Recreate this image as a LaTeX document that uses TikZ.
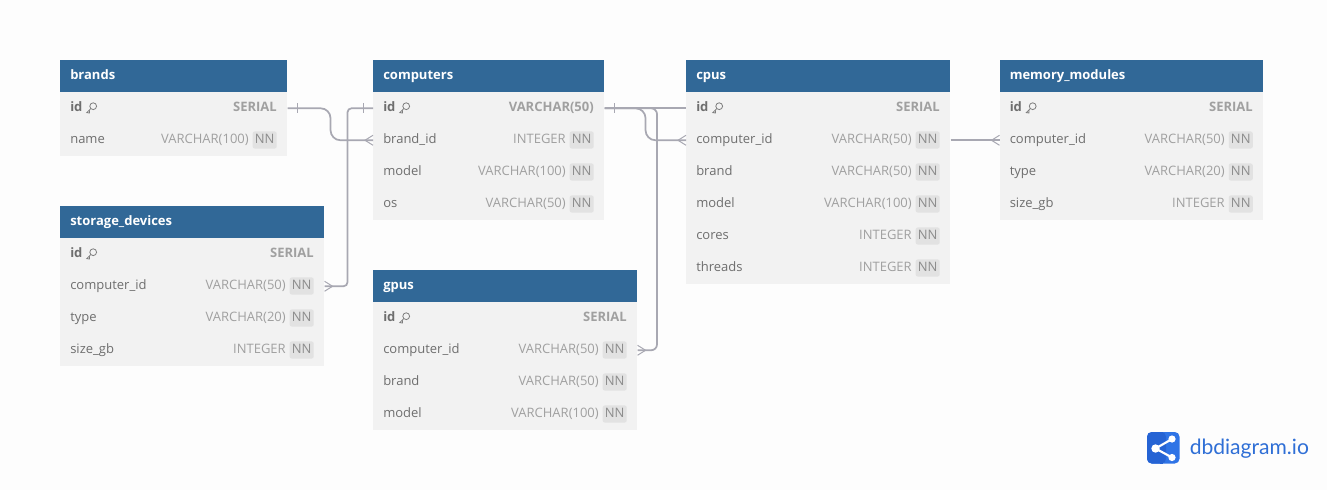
\documentclass[tikz,border=0pt]{standalone}
\usepackage{fontspec}
\setmainfont{Open Sans}
\newfontfamily\logofont{Lato}
\usetikzlibrary{calc}
\definecolor{pagebg}{HTML}{FDFDFD}
\definecolor{headblue}{HTML}{316897}
\definecolor{rowgrey}{HTML}{F2F2F2}
\definecolor{fieldgrey}{HTML}{6E6E6E}
\definecolor{typegrey}{HTML}{A0A0A0}
\definecolor{badgegrey}{HTML}{E2E2E2}
\definecolor{badgetext}{HTML}{8C8C8C}
\definecolor{relgrey}{HTML}{A8A8B2}
\definecolor{logoA}{HTML}{2563D4}
\definecolor{logoB}{HTML}{2F74E6}
\definecolor{logotext}{HTML}{2F6FD6}
\def\pxu{0.75pt}
\tikzset{
  x=0.75pt,y=-0.75pt,
  headbox/.style={fill=headblue,draw=none,inner sep=0pt,minimum height=32*\pxu,anchor=north west},
  rowbox/.style={fill=rowgrey,draw=none,inner sep=0pt,minimum height=32*\pxu,anchor=north west},
  titletext/.style={anchor=west,inner sep=0pt,text=white,font=\fontsize{9.75pt}{11pt}\selectfont\bfseries,text height=7.2pt,text depth=1.8pt},
  fieldtext/.style={inner sep=0pt,anchor=west,text=fieldgrey,font=\fontsize{9.75pt}{11pt}\selectfont,text height=7.2pt,text depth=1.8pt},
  pkfield/.style={fieldtext,font=\fontsize{9.75pt}{11pt}\selectfont\bfseries},
  typetext/.style={inner sep=0pt,anchor=east,text=typegrey,font=\fontsize{9.75pt}{11pt}\selectfont,text height=7.2pt,text depth=1.8pt},
  pktype/.style={typetext,font=\fontsize{9.75pt}{11pt}\selectfont\bfseries},
  badge/.style={fill=badgegrey,rounded corners=1.5pt,inner sep=0pt,minimum width=24*\pxu,text height=7.2pt,text depth=1.8pt,inner ysep=1.9pt,anchor=east,text=badgetext,font=\fontsize{9.75pt}{11pt}\selectfont},
  rel/.style={draw=relgrey,line width=1.3pt},
  relthin/.style={draw=relgrey,line width=0.75pt},
  keyicon/.style={draw=fieldgrey!90,line width=0.6pt},
}
% table header: name, x, y, width, title
\newcommand{\dbhead}[5]{%
  \node[headbox,minimum width=#4*\pxu] (#1) at (#2,#3) {};
  \node[titletext] (#1-title) at (#2+10,#3+16) {#5};
}
% primary key row: name, x, y, width, field, type
\newcommand{\dbpk}[6]{%
  \node[rowbox,minimum width=#4*\pxu] (#1) at (#2,#3) {};
  \node[pkfield] (#1-f) at (#2+10,#3+16) {#5};
  \node[pktype] (#1-t) at (#2+#4-10,#3+16) {#6};
  \draw[keyicon] (#2+33.2,#3+14.2) circle[radius=3.4];
  \draw[keyicon] (#2+30.8,#3+16.6) -- (#2+26.8,#3+20.6) -- (#2+29.4,#3+21) -- (#2+29.6,#3+18.6);
}
% normal row: name, x, y, width, field, type
\newcommand{\dbrow}[6]{%
  \node[rowbox,minimum width=#4*\pxu] (#1) at (#2,#3) {};
  \node[fieldtext] (#1-f) at (#2+10,#3+16) {#5};
  \node[badge] (#1-n) at (#2+#4-10,#3+16) {NN};
  \node[typetext] (#1-t) at (#2+#4-38,#3+16) {#6};
}
% bar at an x offset from a node anchor
\newcommand{\onebar}[2]{\draw[relthin] ($(#1)+(#2,-5)$) -- ($(#1)+(#2,5)$);}
% crow's foot: anchor, direction (+1 apex to the left, -1 apex to the right)
\newcommand{\crowfoot}[2]{\draw[relthin] ($(#1)+(0,-5)$) -- ($(#1)+(#2*-8,0)$) -- ($(#1)+(0,5)$);}
\begin{document}
\begin{tikzpicture}
\useasboundingbox[fill=pagebg] (0,0) rectangle (1327,490);

% brands
\dbhead{brands}{60}{60}{227}{brands}
\dbpk{brands-id}{60}{92}{227}{id}{SERIAL}
\dbrow{brands-name}{60}{124}{227}{name}{VARCHAR(100)}

% computers
\dbhead{computers}{373}{60}{231}{computers}
\dbpk{computers-id}{373}{92}{231}{id}{VARCHAR(50)}
\dbrow{computers-brand}{373}{124}{231}{brand\_id}{INTEGER}
\dbrow{computers-model}{373}{156}{231}{model}{VARCHAR(100)}
\dbrow{computers-os}{373}{188}{231}{os}{VARCHAR(50)}

% cpus
\dbhead{cpus}{686}{60}{264}{cpus}
\dbpk{cpus-id}{686}{92}{264}{id}{SERIAL}
\dbrow{cpus-comp}{686}{124}{264}{computer\_id}{VARCHAR(50)}
\dbrow{cpus-brand}{686}{156}{264}{brand}{VARCHAR(50)}
\dbrow{cpus-model}{686}{188}{264}{model}{VARCHAR(100)}
\dbrow{cpus-cores}{686}{220}{264}{cores}{INTEGER}
\dbrow{cpus-threads}{686}{252}{264}{threads}{INTEGER}

% memory_modules
\dbhead{memory}{999.5}{60}{263.5}{memory\_modules}
\dbpk{memory-id}{999.5}{92}{263.5}{id}{SERIAL}
\dbrow{memory-comp}{999.5}{124}{263.5}{computer\_id}{VARCHAR(50)}
\dbrow{memory-type}{999.5}{156}{263.5}{type}{VARCHAR(20)}
\dbrow{memory-size}{999.5}{188}{263.5}{size\_gb}{INTEGER}

% storage_devices
\dbhead{storage}{60}{206}{264}{storage\_devices}
\dbpk{storage-id}{60}{238}{264}{id}{SERIAL}
\dbrow{storage-comp}{60}{270}{264}{computer\_id}{VARCHAR(50)}
\dbrow{storage-type}{60}{302}{264}{type}{VARCHAR(20)}
\dbrow{storage-size}{60}{334}{264}{size\_gb}{INTEGER}

% gpus
\dbhead{gpus}{373}{270}{264}{gpus}
\dbpk{gpus-id}{373}{302}{264}{id}{SERIAL}
\dbrow{gpus-comp}{373}{334}{264}{computer\_id}{VARCHAR(50)}
\dbrow{gpus-brand}{373}{366}{264}{brand}{VARCHAR(50)}
\dbrow{gpus-model}{373}{398}{264}{model}{VARCHAR(100)}

% connectors
\draw[rel,rounded corners=7.5pt] (brands-id.east) -- ++(43,0) |- (computers-brand.west);
\onebar{brands-id.east}{9.5}
\crowfoot{computers-brand.west}{1}

\draw[rel,rounded corners=3pt] (computers-id.west) -- ++(-25.5,0) |- (storage-comp.east);
\onebar{computers-id.west}{-10}
\crowfoot{storage-comp.east}{-1}

\draw[rel] (computers-id.east) -- (cpus-id.west);
\onebar{computers-id.east}{9.5}

\draw[rel,rounded corners=7.5pt] (computers-id.east) -- ++(41,0) |- (cpus-comp.west);
\crowfoot{cpus-comp.west}{1}

\draw[rel,rounded corners=4.5pt] (computers-id.east) -- ++(52.5,0) |- (gpus-comp.east);
\crowfoot{gpus-comp.east}{-1}

\draw[rel] (cpus-comp.east) -- (memory-comp.west);
\crowfoot{memory-comp.west}{1}

% logo
\fill[logoB,rounded corners=3.5pt] (1147,432) rectangle (1179.5,463.5);
\fill[logoA,rounded corners=3.5pt] (1147,432) rectangle (1166,463.5);
\fill[logoA] (1160,432) rectangle (1163,463.5);
\draw[white,line width=1.6pt] (1172,439) -- (1155.5,448.5) -- (1172,457.5);
\fill[white] (1155.5,448.5) circle[radius=4.2] (1172,439) circle[radius=3.6] (1172,457.5) circle[radius=3.6];
\node[anchor=west,inner sep=0pt,text=logotext,font=\logofont\fontsize{15.8pt}{18pt}\selectfont] (logo) at (1189.5,448.5) {dbdiagram.io};
\end{tikzpicture}
\end{document}
